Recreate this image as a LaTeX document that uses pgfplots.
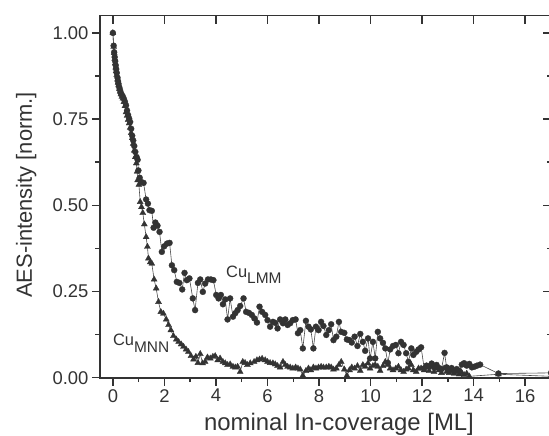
\documentclass[border=0pt]{standalone}
\usepackage{fontspec}
\setmainfont{Liberation Sans}
\usepackage{pgfplots}
\pgfplotsset{compat=1.18}
\definecolor{ink}{HTML}{333333}
\definecolor{ln}{HTML}{4a4a4a}

\pgfplotsset{
  common/.style={
    at={(0,0)}, anchor=south west,
    width=451bp, height=362bp, scale only axis,
    xmin=-0.5, xmax=17, ymin=0, ymax=1.05,
    axis line style={ink, line width=1.6bp},
    every tick/.style={ink, line width=1.5bp},
    major tick length=8bp, minor tick length=4.5bp,
  },
}

\begin{document}
\begin{tikzpicture}
\begin{axis}[
  common,
  clip=false,
  xtick={0,2,...,16}, minor xtick={1,3,...,15},
  ytick={0,0.25,0.5,0.75,1}, minor ytick={0.125,0.375,0.625,0.875},
  xtick pos=left, ytick pos=left, tick align=outside,
  /pgf/number format/assume math mode=true,
  yticklabel style={/pgf/number format/.cd, fixed, fixed zerofill, precision=2},
  tick label style={font=\fontsize{18.5}{20}\selectfont, text=ink},
  every axis x label/.style={at={(axis description cs:0.53,0)}, anchor=base, yshift=-52.8bp, font=\fontsize{24}{26}\selectfont, text=ink},
  every axis y label/.style={at={(axis description cs:-0.1508,0.505)}, anchor=base, rotate=90, font=\fontsize{22}{24}\selectfont, text=ink},
  xlabel={nominal In-coverage [ML]},
  ylabel={AES-intensity [norm.]},
]
\addplot[ln, line width=0.6bp, mark=*, mark size=3bp, mark options={fill=ink, draw=ink, line width=0.3bp}] coordinates {
(0,1.000) (0.03,0.963) (0.05,0.944) (0.07,0.930) (0.09,0.918) (0.11,0.906) (0.13,0.895) (0.15,0.884)
(0.18,0.870) (0.20,0.860) (0.22,0.852) (0.25,0.842) (0.28,0.834) (0.31,0.826) (0.35,0.820) (0.39,0.815)
(0.43,0.808) (0.47,0.800) (0.51,0.790) (0.55,0.775) (0.59,0.762) (0.63,0.752) (0.67,0.742) (0.71,0.722)
(0.75,0.702) (0.79,0.688) (0.83,0.672) (0.87,0.655) (0.92,0.640) (0.96,0.632) (0.99,0.601) (1.04,0.580)
(1.09,0.568) (1.19,0.565) (1.29,0.517) (1.36,0.505) (1.42,0.486) (1.51,0.484) (1.58,0.435) (1.65,0.450)
(1.73,0.441) (1.81,0.423) (1.90,0.365) (1.99,0.381) (2.10,0.389) (2.20,0.391) (2.29,0.326) (2.38,0.312)
(2.48,0.278) (2.58,0.275) (2.69,0.256) (2.78,0.304) (2.87,0.283) (2.97,0.288) (3.10,0.230) (3.19,0.196)
(3.30,0.275) (3.39,0.285) (3.49,0.249) (3.58,0.273) (3.69,0.285) (3.80,0.285) (3.90,0.283) (4.01,0.240)
(4.10,0.230) (4.19,0.240) (4.27,0.213) (4.36,0.227) (4.45,0.169) (4.55,0.230) (4.66,0.177) (4.75,0.187)
(4.84,0.196) (4.94,0.208) (5.07,0.230) (5.17,0.191) (5.28,0.188) (5.39,0.182) (5.49,0.172) (5.59,0.160)
(5.69,0.206) (5.79,0.191) (5.91,0.182) (6.00,0.167) (6.10,0.148) (6.21,0.162) (6.30,0.159) (6.39,0.143)
(6.49,0.169) (6.60,0.158) (6.69,0.169) (6.78,0.153) (6.88,0.158) (6.98,0.167) (7.09,0.169) (7.18,0.129)
(7.27,0.138) (7.37,0.085) (7.49,0.165) (7.59,0.148) (7.68,0.140) (7.78,0.085) (7.88,0.148) (7.98,0.138)
(8.08,0.162) (8.17,0.150) (8.28,0.124) (8.38,0.138) (8.47,0.155) (8.56,0.109) (8.67,0.119) (8.77,0.162)
(8.86,0.133) (8.98,0.130) (9.08,0.111) (9.18,0.109) (9.27,0.102) (9.38,0.119) (9.49,0.092) (9.60,0.127)
(9.70,0.104) (9.79,0.078) (9.90,0.114) (9.98,0.056) (10.09,0.104) (10.18,0.056) (10.28,0.133) (10.37,0.114)
(10.48,0.101) (10.57,0.085) (10.67,0.043) (10.76,0.082) (10.87,0.092) (10.98,0.095) (11.08,0.071) (11.18,0.104)
(11.28,0.095) (11.38,0.071) (11.47,0.046) (11.58,0.085) (11.66,0.066) (11.77,0.075) (11.86,0.082) (11.96,0.088)
(12.08,0.027) (12.17,0.035) (12.27,0.032) (12.37,0.041) (12.46,0.030) (12.56,0.037) (12.66,0.028) (12.75,0.025)
(12.87,0.072) (12.95,0.030) (13.05,0.022) (13.14,0.028) (13.24,0.018) (13.34,0.025) (13.44,0.020) (13.54,0.038)
(13.63,0.042) (13.73,0.035) (13.83,0.040) (13.93,0.030) (14.03,0.032) (14.13,0.035) (14.25,0.038) (14.96,0.012)
(17.00,0.014)
};
\addplot[ln, line width=0.6bp, mark=triangle*, mark size=3.5bp, mark options={fill=ink, draw=ink, line width=0.3bp}] coordinates {
(0,1.000) (0.03,0.960) (0.05,0.942) (0.07,0.925) (0.09,0.912) (0.11,0.900) (0.13,0.890) (0.15,0.878)
(0.18,0.865) (0.20,0.856) (0.22,0.848) (0.25,0.838) (0.28,0.830) (0.31,0.822) (0.35,0.815) (0.39,0.810)
(0.43,0.800) (0.47,0.788) (0.51,0.770) (0.55,0.760) (0.59,0.748) (0.63,0.738) (0.67,0.725) (0.71,0.710)
(0.75,0.695) (0.79,0.679) (0.83,0.659) (0.87,0.640) (0.91,0.622) (0.94,0.598) (0.96,0.573) (1.01,0.560)
(1.06,0.510) (1.11,0.495) (1.16,0.478) (1.22,0.445) (1.29,0.408) (1.34,0.380) (1.38,0.346) (1.45,0.335)
(1.51,0.331) (1.60,0.285) (1.68,0.259) (1.77,0.220) (1.86,0.191) (1.96,0.186) (2.07,0.169) (2.16,0.153)
(2.25,0.138) (2.35,0.121) (2.46,0.111) (2.55,0.104) (2.65,0.097) (2.74,0.090) (2.84,0.082) (2.93,0.075)
(3.03,0.063) (3.13,0.053) (3.22,0.061) (3.30,0.043) (3.39,0.069) (3.48,0.042) (3.58,0.046) (3.67,0.059)
(3.78,0.056) (3.88,0.061) (3.97,0.063) (4.07,0.051) (4.16,0.056) (4.27,0.046) (4.36,0.042) (4.45,0.037)
(4.55,0.039) (4.66,0.032) (4.75,0.030) (4.84,0.032) (4.94,0.017) (5.04,0.046) (5.13,0.043) (5.22,0.037)
(5.33,0.042) (5.48,0.046) (5.59,0.051) (5.69,0.053) (5.79,0.055) (5.91,0.051) (6.00,0.046) (6.10,0.043)
(6.21,0.042) (6.30,0.039) (6.39,0.034) (6.49,0.030) (6.60,0.046) (6.69,0.037) (6.78,0.032) (6.88,0.030)
(6.98,0.027) (7.09,0.030) (7.18,0.027) (7.27,0.024) (7.37,0.006) (7.49,0.020) (7.59,0.027) (7.68,0.022)
(7.78,0.030) (7.88,0.027) (7.98,0.030) (8.08,0.032) (8.17,0.030) (8.28,0.030) (8.38,0.032) (8.47,0.030)
(8.56,0.024) (8.67,0.027) (8.77,0.037) (8.86,0.046) (8.98,0.024) (9.08,0.006) (9.18,0.022) (9.27,0.030)
(9.38,0.027) (9.49,0.034) (9.60,0.020) (9.70,0.037) (9.79,0.032) (9.90,0.042) (9.98,0.027) (10.09,0.034)
(10.18,0.037) (10.28,0.032) (10.37,0.020) (10.48,0.034) (10.57,0.046) (10.67,0.037) (10.76,0.027) (10.87,0.022)
(10.98,0.027) (11.08,0.032) (11.18,0.022) (11.28,0.017) (11.38,0.024) (11.47,0.027) (11.58,0.037) (11.66,0.022)
(11.77,0.017) (11.86,0.027) (11.96,0.027) (12.08,0.022) (12.17,0.032) (12.27,0.020) (12.37,0.037) (12.46,0.017)
(12.56,0.027) (12.66,0.022) (12.75,0.014) (12.85,0.027) (12.95,0.017) (13.05,0.014) (13.14,0.020) (13.24,0.012)
(13.34,0.017) (13.44,0.010) (13.54,0.014) (13.63,0.008) (13.73,0.012) (13.83,0.004) (14.96,0.010) (17.00,0.004)
};
\node[anchor=base west, inner sep=0pt, text=ink] at (axis cs:4.39,0.292)
  {\fontsize{16.5}{18}\selectfont Cu\raisebox{-6bp}{\fontsize{15.5}{17}\selectfont LMM}};
\node[anchor=base west, inner sep=0pt, text=ink] at (axis cs:0.0,0.0945)
  {\fontsize{16.5}{18}\selectfont Cu\raisebox{-7bp}{\fontsize{15.5}{17}\selectfont MNN}};
\end{axis}
\begin{axis}[
  common,
  xtick={0,2,...,16}, minor xtick={},
  ytick={0,0.25,0.5,0.75,1}, minor ytick={0.125,0.375,0.625,0.875},
  xtick pos=right, ytick pos=right, tick align=inside,
  xticklabels={}, yticklabels={},
]
\end{axis}
\pgfresetboundingbox
\path[use as bounding box] (-100bp,-58.3bp) rectangle (449bp,377.7bp);
\end{tikzpicture}
\end{document}
